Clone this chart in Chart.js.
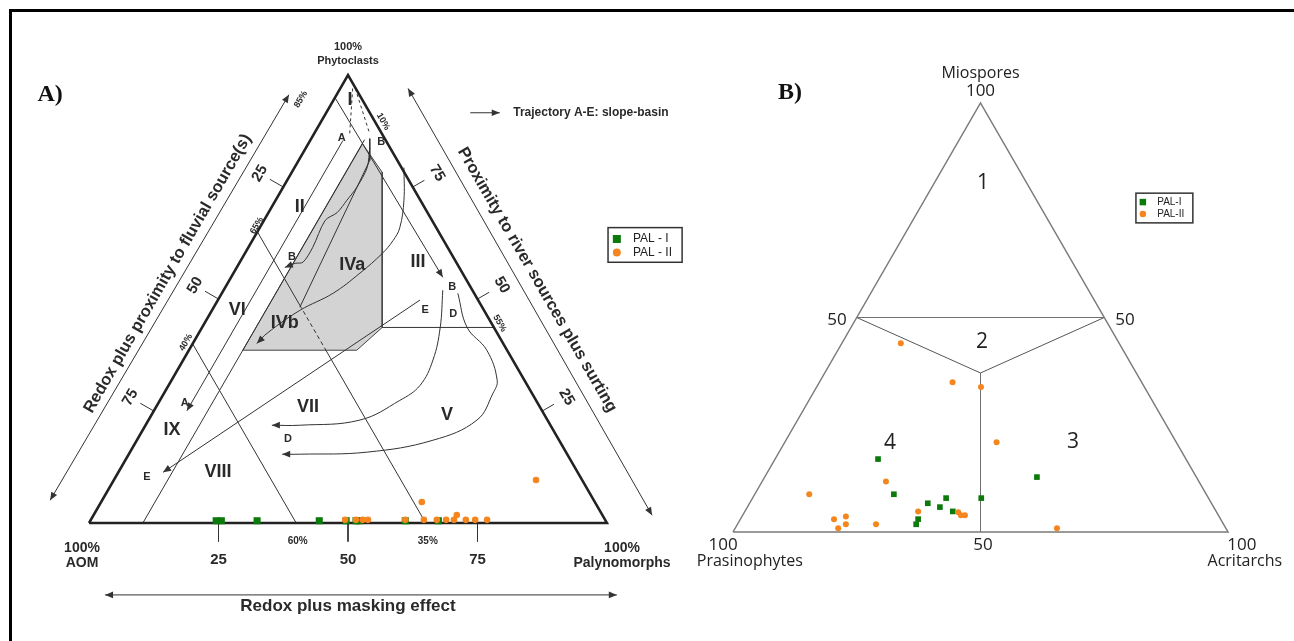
<!DOCTYPE html>
<html>
<head>
<meta charset="utf-8">
<script src="https://cdn.jsdelivr.net/npm/chart.js@4.4.0/dist/chart.umd.min.js"></script>
<style>
  html, body { margin: 0; padding: 0; background: #fff; }
  #wrap { position: relative; width: 1294px; height: 641px; overflow: hidden; background: #fff; }
  #frame { position: absolute; left: 9px; top: 9px; width: 1300px; height: 660px; border-left: 3px solid #000; border-top: 3px solid #000; }
  canvas { position: absolute; left: 0; top: 0; }
</style>
</head>
<body>
<div id="wrap">
  <div id="frame"></div>
  <canvas id="chartA" width="1294" height="641"></canvas>
  <canvas id="chartB" width="1294" height="641"></canvas>
</div>
<script>
// ---- A) AOM / Phytoclasts / Palynomorphs (% palynomorphs, % phytoclasts) ----
const aPalIPalyno  = [24.3, 25.3, 32.2, 44.2, 49.4, 51.3, 51.9, 60.8, 67.2];
const aPalIPhyto   = [0.5, 0.5, 0.5, 0.5, 0.5, 0.5, 0.5, 0.5, 0.5];
const aPalIIPalyno = [49.1, 51.2, 52.5, 53.5, 60.7, 61.9, 64.3, 66.8, 68.6, 70.1, 70.1, 72.4, 74.2, 76.5, 81.5];
const aPalIIPhyto  = [0.7, 0.7, 0.7, 0.7, 0.7, 4.7, 0.7, 0.7, 0.7, 0.7, 1.8, 0.7, 0.7, 0.7, 9.6];
const aBottomTicks = [25, 50, 75];
const aLeftTicks   = [25, 50, 75];
const aRightTicks  = [75, 50, 25];
const aNames = ['PAL - I', 'PAL - II'];

// ---- B) Miospores / Prasinophytes / Acritarchs (% acritarchs, % miospores) ----
const bPalIAcri  = [20.8, 28.1, 36.0, 38.9, 39.1, 42.0, 46.2, 35.9, 36.1, 55.0];
const bPalIMio   = [17.0, 8.8, 6.7, 5.8, 7.9, 4.8, 7.9, 3.0, 1.8, 12.8];
const bPalIIAcri = [11.9, 26.9, 33.2, 42.8, 25.0, 11.0, 35.0, 43.2, 44.1, 44.9, 18.9, 21.0, 21.9, 20.8, 28.0, 65.0];
const bPalIIMio  = [44.0, 34.9, 33.8, 20.9, 11.8, 8.8, 4.8, 4.6, 3.9, 3.9, 3.0, 3.6, 1.8, 0.9, 1.8, 0.9];
const bNames = ['PAL-I', 'PAL-II'];

const SQ = Math.sqrt(3) / 2;
const tern = (right, top) => ({ x: right + top / 2, y: top * SQ });
const toPts = (rightArr, topArr) => rightArr.map((r, i) => tern(r, topArr[i]));

const GREEN = '#0b7a0b', ORANGE = '#f5861f';
const FS = '"Liberation Sans", Arial, sans-serif';
const FO = '"Open Sans", sans-serif';

function path(pts, o) {
    return Object.assign({
        type: 'line',
        data: pts.map(p => ({ x: p[0], y: p[1] })),
        borderColor: '#333', borderWidth: 1, pointRadius: 0,
        fill: false, tension: 0, order: 5, clip: false
    }, o || {});
}

function head(ctx, x0, y0, x1, y1, size, color) {
    const a = Math.atan2(y1 - y0, x1 - x0);
    ctx.save();
    ctx.translate(x1, y1);
    ctx.rotate(a);
    ctx.beginPath();
    ctx.moveTo(0, 0);
    ctx.lineTo(-size, -size * 0.42);
    ctx.lineTo(-size, size * 0.42);
    ctx.closePath();
    ctx.fillStyle = color;
    ctx.fill();
    ctx.restore();
}

const decorPlugin = {
    id: 'ternDecor',
    afterDatasetsDraw(chart, args, opts) {
        const ctx = chart.ctx;
        const xs = chart.scales.x, ys = chart.scales.y;
        const px = v => xs.getPixelForValue(v), py = v => ys.getPixelForValue(v);

        // arrow heads on trajectories / axis arrows
        chart.data.datasets.forEach((ds, i) => {
            if (!ds.arrow) return;
            const p = chart.getDatasetMeta(i).data;
            const n = p.length;
            head(ctx, p[n - 2].x, p[n - 2].y, p[n - 1].x, p[n - 1].y, 8, ds.borderColor);
            if (ds.arrow === 'both') head(ctx, p[1].x, p[1].y, p[0].x, p[0].y, 8, ds.borderColor);
        });

        // text
        (opts.items || []).forEach(it => {
            ctx.save();
            ctx.font = it.f || opts.font;
            ctx.fillStyle = it.c || opts.color;
            ctx.textAlign = it.a || 'center';
            ctx.textBaseline = 'middle';
            ctx.translate(px(it.x), py(it.y));
            if (it.r) ctx.rotate(it.r * Math.PI / 180);
            ctx.fillText(it.t, 0, 0);
            ctx.restore();
        });

        // legend box
        const lg = opts.legend;
        if (lg) {
            ctx.save();
            ctx.strokeStyle = '#333';
            ctx.lineWidth = 1.5;
            const x1 = px(lg.box[0]), y1 = py(lg.box[1]), x2 = px(lg.box[2]), y2 = py(lg.box[3]);
            ctx.strokeRect(x1, y1, x2 - x1, y2 - y1);
            lg.rows.forEach(row => {
                const ds = chart.data.datasets[row.ds];
                const mx = px(lg.mx), my = py(row.y);
                ctx.fillStyle = ds.backgroundColor;
                if (ds.pointStyle === 'rect') {
                    ctx.fillRect(mx - lg.size / 2, my - lg.size / 2, lg.size, lg.size);
                } else {
                    ctx.beginPath();
                    ctx.arc(mx, my, lg.size / 2, 0, Math.PI * 2);
                    ctx.fill();
                }
                ctx.fillStyle = '#222';
                ctx.font = lg.font;
                ctx.textAlign = 'left';
                ctx.textBaseline = 'middle';
                ctx.fillText(ds.label, px(lg.tx), my);
            });
            ctx.restore();
        }
    }
};

function sideTicks(values, side, len) {
    // side: 'left' edge (apex -> AOM) or 'right' edge (apex -> Palynomorphs)
    return values.map(v => {
        const f = side === 'left' ? v / 100 : 1 - v / 100;
        const ex = side === 'left' ? 50 - 50 * f : 50 + 50 * f;
        const ey = 86.6 * (1 - f);
        const nx = side === 'left' ? -SQ : SQ;
        return [[ex, ey], [ex + nx * len, ey + 0.5 * len]];
    });
}

function sideLabels(values, side, off) {
    return values.map(v => {
        const f = side === 'left' ? v / 100 : 1 - v / 100;
        const ex = side === 'left' ? 50 - 50 * f : 50 + 50 * f;
        const ey = 86.6 * (1 - f);
        const nx = side === 'left' ? -SQ : SQ;
        return { t: String(v), x: ex + nx * off, y: ey + 0.5 * off, f: 'bold 15px ' + FS, r: side === 'left' ? -60 : 60 };
    });
}

function baseOptions(padding, items, legend) {
    return {
        responsive: false,
        animation: false,
        devicePixelRatio: 1,
        events: [],
        layout: { padding: padding },
        scales: {
            x: { type: 'linear', min: 0, max: 100, display: false },
            y: { type: 'linear', min: 0, max: 86.6, display: false }
        },
        plugins: {
            legend: { display: false },
            tooltip: { enabled: false },
            ternDecor: { items: items, legend: legend, font: 'bold 11px ' + FS, color: '#2a2a2a' }
        }
    };
}

document.addEventListener('DOMContentLoaded', function () {
    // ---------------- A ----------------
    const aLines = [
        path([[0, 0], [100, 0], [50, 86.6], [0, 0]], { borderWidth: 2.5, borderColor: '#222', order: 3 }),
        path([[29.7, 33.4], [52.8, 73.3], [56.6, 67.8], [56.6, 37.8], [51.7, 33.4], [29.7, 33.4]],
             { fill: 'shape', backgroundColor: '#d3d3d3', borderColor: '#444', order: 9 }),
        path([[56.6, 37.8], [78.2, 37.8]]),
        path([[20, 34.64], [40, 0]]),
        path([[32.5, 56.3], [40.7, 42.1]]),
        path([[40.7, 42.1], [45.5, 33.8]], { borderDash: [4, 3] }),
        path([[45.5, 33.8], [65, 0]]),
        path([[10.4, 0], [53.2, 74.1]]),
        path([[54.2, 74.3], [54.2, 70.1]]),
        path([[50.9, 84.0], [50.3, 74.8]], { borderDash: [3, 3] }),
        path([[51.4, 84.0], [54.2, 75.2]], { borderDash: [3, 3] }),
        path([[54.2, 70.1], [40.7, 41.7]]),
        path([[47.5, 82.2], [68.3, 47.5]], { arrow: 'end' }),
        path([[49.0, 73.9], [18.9, 21.7]], { arrow: 'end' }),
        path([[54.2, 72.6], [53.7, 68.7], [51.7, 64.9], [49.8, 62.4], [47.9, 60.0], [45.6, 58.5], [43.2, 53.3], [41.3, 50.4], [39.8, 50.2], [37.8, 49.4]],
             { arrow: 'end', tension: 0.3 }),
        path([[60.8, 68.7], [60.8, 62.4], [60.0, 57.1], [58.7, 54.6], [56.6, 52.1], [52.3, 48.3], [47.1, 44.4], [40.7, 41.1], [34.4, 36.7], [32.4, 34.7]],
             { arrow: 'end', tension: 0.4 }),
        path([[63.9, 43.1], [14.3, 9.8]], { arrow: 'end' }),
        path([[68.3, 45.0], [67.8, 37.8], [66.4, 31.5], [63.9, 26.6], [60.0, 23.7], [52.3, 19.9], [40.7, 18.9], [35.3, 18.9]],
             { arrow: 'end', tension: 0.4 }),
        path([[71.2, 44.4], [73.0, 37.8], [76.8, 33.4], [78.8, 27.6], [78.0, 25.1], [74.9, 19.9], [66.4, 16.0], [53.7, 13.7], [40.7, 13.3], [37.3, 13.3]],
             { arrow: 'end', tension: 0.4 }),
        path([[-7.5, 4.4], [38.6, 82.8]], { arrow: 'both' }),
        path([[61.6, 84.0], [108.7, 1.5]], { arrow: 'both' }),
        path([[3.1, -13.9], [101.9, -13.9]], { arrow: 'both' }),
        path([[73.6, 79.3], [79.3, 79.3]], { arrow: 'end' })
    ];
    aBottomTicks.forEach(v => aLines.push(path([[v, 0], [v, -3.6]])));
    sideTicks(aLeftTicks, 'left', 3).forEach(s => aLines.push(path(s)));
    sideTicks(aRightTicks, 'right', 2.6).forEach(s => aLines.push(path(s)));

    const aItems = [
        { t: 'A)', x: -7.5, y: 82.8, f: 'bold 24px "Liberation Serif", serif', c: '#111' },
        { t: '100%', x: 50, y: 92.1 },
        { t: 'Phytoclasts', x: 50, y: 89.4 },
        { t: '100%', x: -1.35, y: -4.8, f: 'bold 14px ' + FS },
        { t: 'AOM', x: -1.35, y: -7.7, f: 'bold 14px ' + FS },
        { t: '100%', x: 102.9, y: -4.8, f: 'bold 14px ' + FS },
        { t: 'Palynomorphs', x: 102.9, y: -7.7, f: 'bold 14px ' + FS },
        { t: 'Redox plus proximity to fluvial source(s)', x: 15.2, y: 48.2, f: 'bold 16.5px ' + FS, r: -60 },
        { t: 'Proximity to river sources plus surting', x: 86.5, y: 47.0, f: 'bold 16.5px ' + FS, r: 60 },
        { t: 'Redox plus masking effect', x: 50, y: -16.2, f: 'bold 17px ' + FS },
        { t: 'Trajectory A-E: slope-basin', x: 81.9, y: 79.3, f: 'bold 12px ' + FS, a: 'left' },
        { t: '85%', x: 40.9, y: 81.9, f: 'bold 9px ' + FS, r: -60 },
        { t: '65%', x: 32.4, y: 57.5, f: 'bold 9px ' + FS, r: -60 },
        { t: '40%', x: 18.7, y: 34.9, f: 'bold 9px ' + FS, r: -60 },
        { t: '10%', x: 56.8, y: 77.6, f: 'bold 9px ' + FS, r: 60 },
        { t: '55%', x: 79.3, y: 38.6, f: 'bold 9px ' + FS, r: 60 },
        { t: '60%', x: 40.3, y: -3.5, f: 'bold 10px ' + FS },
        { t: '35%', x: 65.4, y: -3.5, f: 'bold 10px ' + FS },
        { t: 'A', x: 48.8, y: 74.5 }, { t: 'B', x: 56.4, y: 73.7 },
        { t: 'B', x: 39.2, y: 51.4 }, { t: 'B', x: 70.1, y: 45.6 },
        { t: 'E', x: 64.9, y: 41.1 }, { t: 'D', x: 70.3, y: 40.5 },
        { t: 'A', x: 18.5, y: 23.2 }, { t: 'E', x: 11.2, y: 8.9 },
        { t: 'D', x: 38.4, y: 16.2 },
        { t: 'I', x: 50.4, y: 81.7, f: 'bold 18px ' + FS },
        { t: 'II', x: 40.7, y: 61.0, f: 'bold 18px ' + FS },
        { t: 'III', x: 63.5, y: 50.4, f: 'bold 18px ' + FS },
        { t: 'IVa', x: 50.8, y: 49.8, f: 'bold 18px ' + FS },
        { t: 'IVb', x: 37.8, y: 38.6, f: 'bold 18px ' + FS },
        { t: 'VI', x: 28.6, y: 41.1, f: 'bold 18px ' + FS },
        { t: 'VII', x: 42.3, y: 22.4, f: 'bold 18px ' + FS },
        { t: 'V', x: 69.1, y: 20.8, f: 'bold 18px ' + FS },
        { t: 'VIII', x: 24.9, y: 9.8, f: 'bold 18px ' + FS },
        { t: 'IX', x: 16.0, y: 18.0, f: 'bold 18px ' + FS }
    ];
    aBottomTicks.forEach(v => aItems.push({ t: String(v), x: v, y: -7.1, f: 'bold 15px ' + FS }));
    sideLabels(aLeftTicks, 'left', 5.2).forEach(l => aItems.push(l));
    sideLabels(aRightTicks, 'right', 5.4).forEach(l => aItems.push(l));

    new Chart(document.getElementById('chartA').getContext('2d'), {
        type: 'scatter',
        data: {
            datasets: [
                { label: aNames[1], data: toPts(aPalIIPalyno, aPalIIPhyto), pointStyle: 'circle', pointRadius: 3.3,
                  backgroundColor: ORANGE, borderWidth: 0, order: 0, clip: false },
                { label: aNames[0], data: toPts(aPalIPalyno, aPalIPhyto), pointStyle: 'rect', pointRadius: 5,
                  backgroundColor: GREEN, borderWidth: 0, order: 1, clip: false }
            ].concat(aLines)
        },
        options: baseOptions({ left: 89, right: 687, top: 75, bottom: 118 }, aItems, {
            box: [100.2, 57.1, 114.5, 50.4], mx: 101.9, tx: 105.0, size: 8,
            font: '12px ' + FS,
            rows: [{ ds: 1, y: 54.9 }, { ds: 0, y: 52.3 }]
        }),
        plugins: [decorPlugin]
    });

    // ---------------- B ----------------
    const bLines = [
        path([[0, 0], [100, 0], [50, 86.6], [0, 0]], { borderColor: '#7a7a7a', borderWidth: 1.5 }),
        path([[25, 43.3], [75, 43.3]], { borderColor: '#707070' }),
        path([[25, 43.3], [50, 32.1], [75, 43.3]], { borderColor: '#555' }),
        path([[50, 32.1], [50, 0]], { borderColor: '#707070' })
    ];
    const bItems = [
        { t: 'B)', x: 11.5, y: 88.6, f: 'bold 24px "Liberation Serif", serif', c: '#111' },
        { t: 'Miospores', x: 50, y: 92.5 },
        { t: '100', x: 50, y: 88.9, f: '17px ' + FO },
        { t: '50', x: 21.0, y: 42.8, f: '17px ' + FO },
        { t: '50', x: 79.2, y: 42.8, f: '17px ' + FO },
        { t: '100', x: -2.0, y: -2.7, f: '17px ' + FO },
        { t: 'Prasinophytes', x: 3.4, y: -5.9 },
        { t: '50', x: 50.5, y: -2.7, f: '17px ' + FO },
        { t: '100', x: 102.8, y: -2.7, f: '17px ' + FO },
        { t: 'Acritarchs', x: 103.4, y: -5.9 },
        { t: '1', x: 50.5, y: 70.4, f: '21px ' + FO },
        { t: '2', x: 50.3, y: 38.3, f: '21px ' + FO },
        { t: '3', x: 68.7, y: 18.1, f: '21px ' + FO },
        { t: '4', x: 31.7, y: 17.9, f: '21px ' + FO }
    ];
    const bOpts = baseOptions({ left: 733, right: 66, top: 103, bottom: 109 }, bItems, {
        box: [81.4, 68.4, 92.9, 62.4], mx: 82.8, tx: 85.7, size: 6.5,
        font: '10px ' + FS,
        rows: [{ ds: 1, y: 66.6 }, { ds: 0, y: 64.2 }]
    });
    bOpts.plugins.ternDecor.font = '16px ' + FO;
    bOpts.plugins.ternDecor.color = '#222';

    new Chart(document.getElementById('chartB').getContext('2d'), {
        type: 'scatter',
        data: {
            datasets: [
                { label: bNames[1], data: toPts(bPalIIAcri, bPalIIMio), pointStyle: 'circle', pointRadius: 3,
                  backgroundColor: ORANGE, borderWidth: 0, order: 0, clip: false },
                { label: bNames[0], data: toPts(bPalIAcri, bPalIMio), pointStyle: 'rect', pointRadius: 4,
                  backgroundColor: GREEN, borderWidth: 0, order: 1, clip: false }
            ].concat(bLines)
        },
        options: bOpts,
        plugins: [decorPlugin]
    });
});
</script>
</body>
</html>
